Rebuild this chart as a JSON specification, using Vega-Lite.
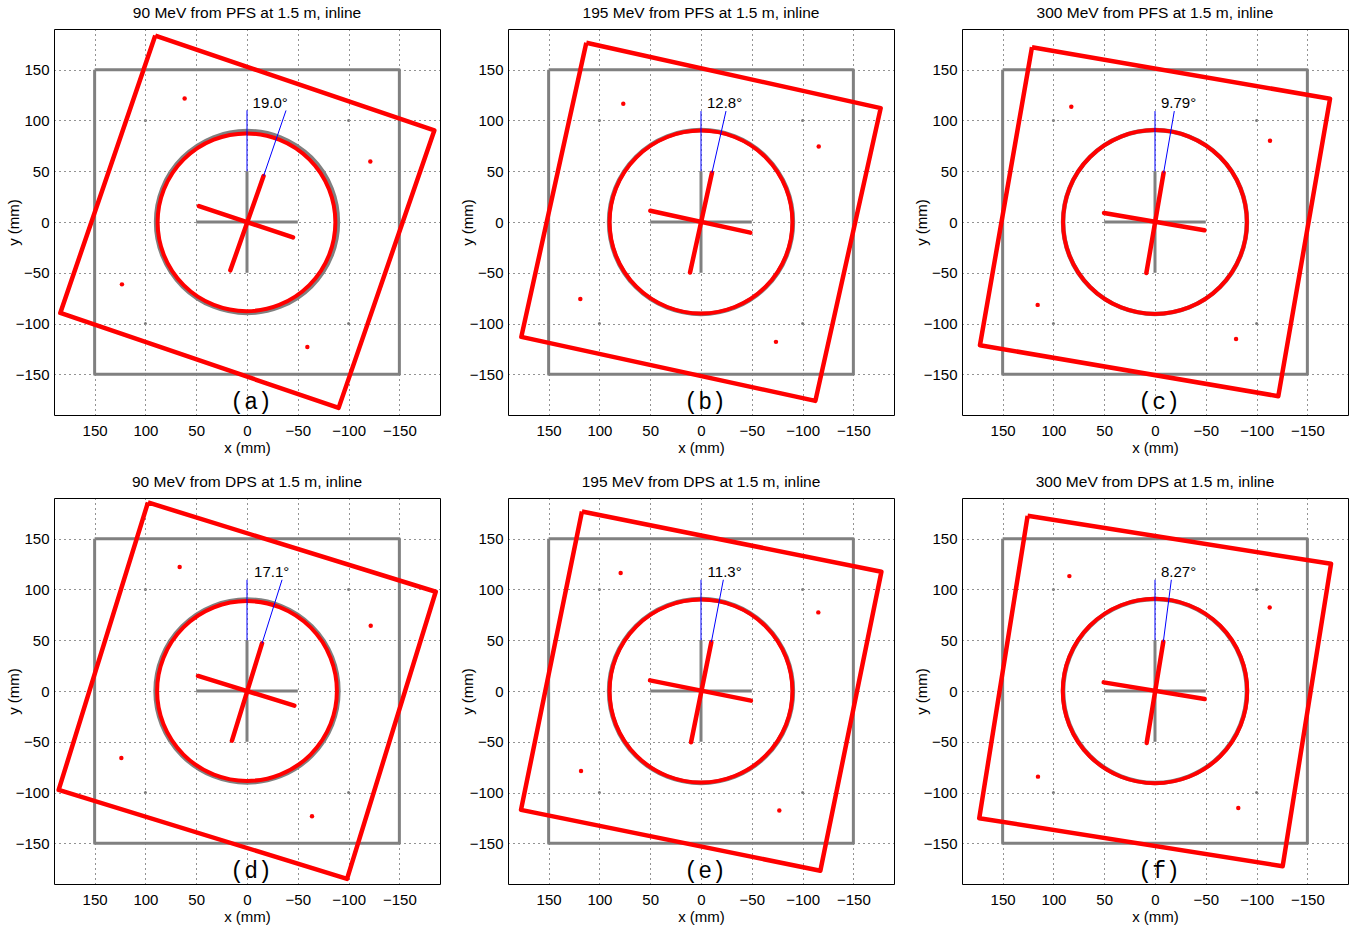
{
  "$schema": "https://vega.github.io/schema/vega-lite/v6.json",
  "background": "white",
  "padding": {"left": 5, "top": 5, "right": 0, "bottom": 0},
  "config": {
    "font": "Liberation Sans",
    "view": {"stroke": "black", "strokeWidth": 1},
    "axis": {
      "grid": true, "gridColor": "#000", "gridDash": [1, 4], "gridOpacity": 0.85, "gridWidth": 1,
      "ticks": false, "tickSize": 0, "domain": false,
      "labelFont": "Liberation Sans", "labelFontSize": 15, "labelColor": "#000",
      "titleFont": "Liberation Sans", "titleFontSize": 15, "titleFontWeight": "normal", "titleColor": "#000"
    }
  },
  "data": {
    "values": [
      {"p": "90 MeV from PFS at 1.5 m, inline", "k": "gsq", "i": 0, "x": 150, "y": 150},
      {"p": "90 MeV from PFS at 1.5 m, inline", "k": "gsq", "i": 1, "x": -150, "y": 150},
      {"p": "90 MeV from PFS at 1.5 m, inline", "k": "gsq", "i": 2, "x": -150, "y": -150},
      {"p": "90 MeV from PFS at 1.5 m, inline", "k": "gsq", "i": 3, "x": 150, "y": -150},
      {"p": "90 MeV from PFS at 1.5 m, inline", "k": "gsq", "i": 4, "x": 150, "y": 150},
      {"p": "90 MeV from PFS at 1.5 m, inline", "k": "gx", "x": 50, "y": 0, "x2": -50, "y2": 0},
      {"p": "90 MeV from PFS at 1.5 m, inline", "k": "gx", "x": 0, "y": -50, "x2": 0, "y2": 50},
      {"p": "90 MeV from PFS at 1.5 m, inline", "k": "gdot", "x": 100, "y": 100},
      {"p": "90 MeV from PFS at 1.5 m, inline", "k": "gdot", "x": -100, "y": 100},
      {"p": "90 MeV from PFS at 1.5 m, inline", "k": "gdot", "x": 100, "y": -100},
      {"p": "90 MeV from PFS at 1.5 m, inline", "k": "gdot", "x": -100, "y": -100},
      {"p": "90 MeV from PFS at 1.5 m, inline", "k": "gring", "x": 0, "y": 0, "r": 89.5},
      {"p": "90 MeV from PFS at 1.5 m, inline", "k": "rsq", "i": 0, "x": 90.3, "y": 183.5},
      {"p": "90 MeV from PFS at 1.5 m, inline", "k": "rsq", "i": 1, "x": -184.4, "y": 90.1},
      {"p": "90 MeV from PFS at 1.5 m, inline", "k": "rsq", "i": 2, "x": -90.2, "y": -183},
      {"p": "90 MeV from PFS at 1.5 m, inline", "k": "rsq", "i": 3, "x": 183.8, "y": -89.5},
      {"p": "90 MeV from PFS at 1.5 m, inline", "k": "rsq", "i": 4, "x": 90.3, "y": 183.5},
      {"p": "90 MeV from PFS at 1.5 m, inline", "k": "rring", "x": 0.5, "y": -0.3, "r": 87.5},
      {"p": "90 MeV from PFS at 1.5 m, inline", "k": "rx", "x": 47.3, "y": 15.7, "x2": -45.3, "y2": -15.1},
      {"p": "90 MeV from PFS at 1.5 m, inline", "k": "rx", "x": 16.4, "y": -47.6, "x2": -16.3, "y2": 45.2},
      {"p": "90 MeV from PFS at 1.5 m, inline", "k": "rdot", "x": 61.4, "y": 121.6},
      {"p": "90 MeV from PFS at 1.5 m, inline", "k": "rdot", "x": -121.4, "y": 59.6},
      {"p": "90 MeV from PFS at 1.5 m, inline", "k": "rdot", "x": 123.1, "y": -61.4},
      {"p": "90 MeV from PFS at 1.5 m, inline", "k": "rdot", "x": -59.4, "y": -123},
      {"p": "90 MeV from PFS at 1.5 m, inline", "k": "blue", "x": 0, "y": 50, "x2": 0, "y2": 110},
      {"p": "90 MeV from PFS at 1.5 m, inline", "k": "blue", "x": -16.3, "y": 45.2, "x2": -38.4, "y2": 109.8},
      {"p": "90 MeV from PFS at 1.5 m, inline", "k": "ang", "x": -5.5, "y": 117.4, "t": "19.0°"},
      {"p": "90 MeV from PFS at 1.5 m, inline", "k": "lab", "x": -4, "y": -177, "t": "(a)"},

      {"p": "195 MeV from PFS at 1.5 m, inline", "k": "gsq", "i": 0, "x": 150, "y": 150},
      {"p": "195 MeV from PFS at 1.5 m, inline", "k": "gsq", "i": 1, "x": -150, "y": 150},
      {"p": "195 MeV from PFS at 1.5 m, inline", "k": "gsq", "i": 2, "x": -150, "y": -150},
      {"p": "195 MeV from PFS at 1.5 m, inline", "k": "gsq", "i": 3, "x": 150, "y": -150},
      {"p": "195 MeV from PFS at 1.5 m, inline", "k": "gsq", "i": 4, "x": 150, "y": 150},
      {"p": "195 MeV from PFS at 1.5 m, inline", "k": "gx", "x": 50, "y": 0, "x2": -50, "y2": 0},
      {"p": "195 MeV from PFS at 1.5 m, inline", "k": "gx", "x": 0, "y": -50, "x2": 0, "y2": 50},
      {"p": "195 MeV from PFS at 1.5 m, inline", "k": "gdot", "x": 100, "y": 100},
      {"p": "195 MeV from PFS at 1.5 m, inline", "k": "gdot", "x": -100, "y": 100},
      {"p": "195 MeV from PFS at 1.5 m, inline", "k": "gdot", "x": 100, "y": -100},
      {"p": "195 MeV from PFS at 1.5 m, inline", "k": "gdot", "x": -100, "y": -100},
      {"p": "195 MeV from PFS at 1.5 m, inline", "k": "gring", "x": 0, "y": 0, "r": 90.5},
      {"p": "195 MeV from PFS at 1.5 m, inline", "k": "rsq", "i": 0, "x": 112.9, "y": 176.4},
      {"p": "195 MeV from PFS at 1.5 m, inline", "k": "rsq", "i": 1, "x": -176.9, "y": 112.1},
      {"p": "195 MeV from PFS at 1.5 m, inline", "k": "rsq", "i": 2, "x": -112.6, "y": -176.1},
      {"p": "195 MeV from PFS at 1.5 m, inline", "k": "rsq", "i": 3, "x": 176.9, "y": -113.1},
      {"p": "195 MeV from PFS at 1.5 m, inline", "k": "rsq", "i": 4, "x": 112.9, "y": 176.4},
      {"p": "195 MeV from PFS at 1.5 m, inline", "k": "rring", "x": 0, "y": 0, "r": 90},
      {"p": "195 MeV from PFS at 1.5 m, inline", "k": "rx", "x": 49.9, "y": 11.1, "x2": -48.6, "y2": -10.5},
      {"p": "195 MeV from PFS at 1.5 m, inline", "k": "rx", "x": 10.8, "y": -49.8, "x2": -10.8, "y2": 48.5},
      {"p": "195 MeV from PFS at 1.5 m, inline", "k": "rdot", "x": 76.5, "y": 116.4},
      {"p": "195 MeV from PFS at 1.5 m, inline", "k": "rdot", "x": -115.9, "y": 74.4},
      {"p": "195 MeV from PFS at 1.5 m, inline", "k": "rdot", "x": 118.8, "y": -75.7},
      {"p": "195 MeV from PFS at 1.5 m, inline", "k": "rdot", "x": -73.8, "y": -118},
      {"p": "195 MeV from PFS at 1.5 m, inline", "k": "blue", "x": 0, "y": 50, "x2": 0, "y2": 109.2},
      {"p": "195 MeV from PFS at 1.5 m, inline", "k": "blue", "x": -10.8, "y": 48.5, "x2": -24.6, "y2": 109.2},
      {"p": "195 MeV from PFS at 1.5 m, inline", "k": "ang", "x": -5.9, "y": 117.4, "t": "12.8°"},
      {"p": "195 MeV from PFS at 1.5 m, inline", "k": "lab", "x": -4, "y": -177, "t": "(b)"},

      {"p": "300 MeV from PFS at 1.5 m, inline", "k": "gsq", "i": 0, "x": 150, "y": 150},
      {"p": "300 MeV from PFS at 1.5 m, inline", "k": "gsq", "i": 1, "x": -150, "y": 150},
      {"p": "300 MeV from PFS at 1.5 m, inline", "k": "gsq", "i": 2, "x": -150, "y": -150},
      {"p": "300 MeV from PFS at 1.5 m, inline", "k": "gsq", "i": 3, "x": 150, "y": -150},
      {"p": "300 MeV from PFS at 1.5 m, inline", "k": "gsq", "i": 4, "x": 150, "y": 150},
      {"p": "300 MeV from PFS at 1.5 m, inline", "k": "gx", "x": 50, "y": 0, "x2": -50, "y2": 0},
      {"p": "300 MeV from PFS at 1.5 m, inline", "k": "gx", "x": 0, "y": -50, "x2": 0, "y2": 50},
      {"p": "300 MeV from PFS at 1.5 m, inline", "k": "gdot", "x": 100, "y": 100},
      {"p": "300 MeV from PFS at 1.5 m, inline", "k": "gdot", "x": -100, "y": 100},
      {"p": "300 MeV from PFS at 1.5 m, inline", "k": "gdot", "x": 100, "y": -100},
      {"p": "300 MeV from PFS at 1.5 m, inline", "k": "gdot", "x": -100, "y": -100},
      {"p": "300 MeV from PFS at 1.5 m, inline", "k": "gring", "x": 0, "y": 0, "r": 90.5},
      {"p": "300 MeV from PFS at 1.5 m, inline", "k": "rsq", "i": 0, "x": 121.1, "y": 172.1},
      {"p": "300 MeV from PFS at 1.5 m, inline", "k": "rsq", "i": 1, "x": -172.3, "y": 121.3},
      {"p": "300 MeV from PFS at 1.5 m, inline", "k": "rsq", "i": 2, "x": -121.4, "y": -171.5},
      {"p": "300 MeV from PFS at 1.5 m, inline", "k": "rsq", "i": 3, "x": 172.3, "y": -121.3},
      {"p": "300 MeV from PFS at 1.5 m, inline", "k": "rsq", "i": 4, "x": 121.1, "y": 172.1},
      {"p": "300 MeV from PFS at 1.5 m, inline", "k": "rring", "x": 0, "y": 0, "r": 90.5},
      {"p": "300 MeV from PFS at 1.5 m, inline", "k": "rx", "x": 50.2, "y": 8.9, "x2": -48.6, "y2": -8.2},
      {"p": "300 MeV from PFS at 1.5 m, inline", "k": "rx", "x": 8.5, "y": -50.2, "x2": -8.5, "y2": 48.5},
      {"p": "300 MeV from PFS at 1.5 m, inline", "k": "rdot", "x": 82.4, "y": 113.4},
      {"p": "300 MeV from PFS at 1.5 m, inline", "k": "rdot", "x": -113.2, "y": 80},
      {"p": "300 MeV from PFS at 1.5 m, inline", "k": "rdot", "x": 115.5, "y": -81.6},
      {"p": "300 MeV from PFS at 1.5 m, inline", "k": "rdot", "x": -79.8, "y": -115.1},
      {"p": "300 MeV from PFS at 1.5 m, inline", "k": "blue", "x": 0, "y": 50, "x2": 0, "y2": 109.2},
      {"p": "300 MeV from PFS at 1.5 m, inline", "k": "blue", "x": -8.5, "y": 48.5, "x2": -19, "y2": 109.2},
      {"p": "300 MeV from PFS at 1.5 m, inline", "k": "ang", "x": -5.9, "y": 117.4, "t": "9.79°"},
      {"p": "300 MeV from PFS at 1.5 m, inline", "k": "lab", "x": -4, "y": -177, "t": "(c)"},

      {"p": "90 MeV from DPS at 1.5 m, inline", "k": "gsq", "i": 0, "x": 150, "y": 150},
      {"p": "90 MeV from DPS at 1.5 m, inline", "k": "gsq", "i": 1, "x": -150, "y": 150},
      {"p": "90 MeV from DPS at 1.5 m, inline", "k": "gsq", "i": 2, "x": -150, "y": -150},
      {"p": "90 MeV from DPS at 1.5 m, inline", "k": "gsq", "i": 3, "x": 150, "y": -150},
      {"p": "90 MeV from DPS at 1.5 m, inline", "k": "gsq", "i": 4, "x": 150, "y": 150},
      {"p": "90 MeV from DPS at 1.5 m, inline", "k": "gx", "x": 50, "y": 0, "x2": -50, "y2": 0},
      {"p": "90 MeV from DPS at 1.5 m, inline", "k": "gx", "x": 0, "y": -50, "x2": 0, "y2": 50},
      {"p": "90 MeV from DPS at 1.5 m, inline", "k": "gdot", "x": 100, "y": 100},
      {"p": "90 MeV from DPS at 1.5 m, inline", "k": "gdot", "x": -100, "y": 100},
      {"p": "90 MeV from DPS at 1.5 m, inline", "k": "gdot", "x": 100, "y": -100},
      {"p": "90 MeV from DPS at 1.5 m, inline", "k": "gdot", "x": -100, "y": -100},
      {"p": "90 MeV from DPS at 1.5 m, inline", "k": "gring", "x": 0, "y": 0, "r": 90},
      {"p": "90 MeV from DPS at 1.5 m, inline", "k": "rsq", "i": 0, "x": 97.5, "y": 185.6},
      {"p": "90 MeV from DPS at 1.5 m, inline", "k": "rsq", "i": 1, "x": -185.8, "y": 97.7},
      {"p": "90 MeV from DPS at 1.5 m, inline", "k": "rsq", "i": 2, "x": -98.5, "y": -184.9},
      {"p": "90 MeV from DPS at 1.5 m, inline", "k": "rsq", "i": 3, "x": 185.4, "y": -97.4},
      {"p": "90 MeV from DPS at 1.5 m, inline", "k": "rsq", "i": 4, "x": 97.5, "y": 185.6},
      {"p": "90 MeV from DPS at 1.5 m, inline", "k": "rring", "x": 0, "y": 0, "r": 88.5},
      {"p": "90 MeV from DPS at 1.5 m, inline", "k": "rx", "x": 48.2, "y": 14.8, "x2": -46.6, "y2": -14.4},
      {"p": "90 MeV from DPS at 1.5 m, inline", "k": "rx", "x": 14.8, "y": -48.9, "x2": -14.8, "y2": 46.9},
      {"p": "90 MeV from DPS at 1.5 m, inline", "k": "rdot", "x": 66.3, "y": 122},
      {"p": "90 MeV from DPS at 1.5 m, inline", "k": "rdot", "x": -121.8, "y": 64.3},
      {"p": "90 MeV from DPS at 1.5 m, inline", "k": "rdot", "x": 123.7, "y": -65.9},
      {"p": "90 MeV from DPS at 1.5 m, inline", "k": "rdot", "x": -64, "y": -123.3},
      {"p": "90 MeV from DPS at 1.5 m, inline", "k": "blue", "x": 0, "y": 50, "x2": 0, "y2": 109.5},
      {"p": "90 MeV from DPS at 1.5 m, inline", "k": "blue", "x": -14.8, "y": 46.9, "x2": -34.5, "y2": 109.5},
      {"p": "90 MeV from DPS at 1.5 m, inline", "k": "ang", "x": -7, "y": 117.4, "t": "17.1°"},
      {"p": "90 MeV from DPS at 1.5 m, inline", "k": "lab", "x": -4, "y": -177, "t": "(d)"},

      {"p": "195 MeV from DPS at 1.5 m, inline", "k": "gsq", "i": 0, "x": 150, "y": 150},
      {"p": "195 MeV from DPS at 1.5 m, inline", "k": "gsq", "i": 1, "x": -150, "y": 150},
      {"p": "195 MeV from DPS at 1.5 m, inline", "k": "gsq", "i": 2, "x": -150, "y": -150},
      {"p": "195 MeV from DPS at 1.5 m, inline", "k": "gsq", "i": 3, "x": 150, "y": -150},
      {"p": "195 MeV from DPS at 1.5 m, inline", "k": "gsq", "i": 4, "x": 150, "y": 150},
      {"p": "195 MeV from DPS at 1.5 m, inline", "k": "gx", "x": 50, "y": 0, "x2": -50, "y2": 0},
      {"p": "195 MeV from DPS at 1.5 m, inline", "k": "gx", "x": 0, "y": -50, "x2": 0, "y2": 50},
      {"p": "195 MeV from DPS at 1.5 m, inline", "k": "gdot", "x": 100, "y": 100},
      {"p": "195 MeV from DPS at 1.5 m, inline", "k": "gdot", "x": -100, "y": 100},
      {"p": "195 MeV from DPS at 1.5 m, inline", "k": "gdot", "x": 100, "y": -100},
      {"p": "195 MeV from DPS at 1.5 m, inline", "k": "gdot", "x": -100, "y": -100},
      {"p": "195 MeV from DPS at 1.5 m, inline", "k": "gring", "x": 0, "y": 0, "r": 90.5},
      {"p": "195 MeV from DPS at 1.5 m, inline", "k": "rsq", "i": 0, "x": 117.2, "y": 176.7},
      {"p": "195 MeV from DPS at 1.5 m, inline", "k": "rsq", "i": 1, "x": -177.6, "y": 117.4},
      {"p": "195 MeV from DPS at 1.5 m, inline", "k": "rsq", "i": 2, "x": -117.5, "y": -177},
      {"p": "195 MeV from DPS at 1.5 m, inline", "k": "rsq", "i": 3, "x": 177.2, "y": -117},
      {"p": "195 MeV from DPS at 1.5 m, inline", "k": "rsq", "i": 4, "x": 117.2, "y": 176.7},
      {"p": "195 MeV from DPS at 1.5 m, inline", "k": "rring", "x": 0, "y": 0, "r": 90},
      {"p": "195 MeV from DPS at 1.5 m, inline", "k": "rx", "x": 50.2, "y": 10.5, "x2": -49.2, "y2": -9.5},
      {"p": "195 MeV from DPS at 1.5 m, inline", "k": "rx", "x": 9.8, "y": -50.5, "x2": -10.2, "y2": 48.2},
      {"p": "195 MeV from DPS at 1.5 m, inline", "k": "rdot", "x": 79.1, "y": 116.1},
      {"p": "195 MeV from DPS at 1.5 m, inline", "k": "rdot", "x": -115.5, "y": 77.4},
      {"p": "195 MeV from DPS at 1.5 m, inline", "k": "rdot", "x": 118.1, "y": -78.7},
      {"p": "195 MeV from DPS at 1.5 m, inline", "k": "rdot", "x": -77.1, "y": -117.7},
      {"p": "195 MeV from DPS at 1.5 m, inline", "k": "blue", "x": 0, "y": 50, "x2": 0, "y2": 109.5},
      {"p": "195 MeV from DPS at 1.5 m, inline", "k": "blue", "x": -10.2, "y": 48.2, "x2": -22, "y2": 109.5},
      {"p": "195 MeV from DPS at 1.5 m, inline", "k": "ang", "x": -6.5, "y": 117.4, "t": "11.3°"},
      {"p": "195 MeV from DPS at 1.5 m, inline", "k": "lab", "x": -4, "y": -177, "t": "(e)"},

      {"p": "300 MeV from DPS at 1.5 m, inline", "k": "gsq", "i": 0, "x": 150, "y": 150},
      {"p": "300 MeV from DPS at 1.5 m, inline", "k": "gsq", "i": 1, "x": -150, "y": 150},
      {"p": "300 MeV from DPS at 1.5 m, inline", "k": "gsq", "i": 2, "x": -150, "y": -150},
      {"p": "300 MeV from DPS at 1.5 m, inline", "k": "gsq", "i": 3, "x": 150, "y": -150},
      {"p": "300 MeV from DPS at 1.5 m, inline", "k": "gsq", "i": 4, "x": 150, "y": 150},
      {"p": "300 MeV from DPS at 1.5 m, inline", "k": "gx", "x": 50, "y": 0, "x2": -50, "y2": 0},
      {"p": "300 MeV from DPS at 1.5 m, inline", "k": "gx", "x": 0, "y": -50, "x2": 0, "y2": 50},
      {"p": "300 MeV from DPS at 1.5 m, inline", "k": "gdot", "x": 100, "y": 100},
      {"p": "300 MeV from DPS at 1.5 m, inline", "k": "gdot", "x": -100, "y": 100},
      {"p": "300 MeV from DPS at 1.5 m, inline", "k": "gdot", "x": 100, "y": -100},
      {"p": "300 MeV from DPS at 1.5 m, inline", "k": "gdot", "x": -100, "y": -100},
      {"p": "300 MeV from DPS at 1.5 m, inline", "k": "gring", "x": 0, "y": 0, "r": 90.5},
      {"p": "300 MeV from DPS at 1.5 m, inline", "k": "rsq", "i": 0, "x": 125.4, "y": 172.5},
      {"p": "300 MeV from DPS at 1.5 m, inline", "k": "rsq", "i": 1, "x": -173.3, "y": 125.2},
      {"p": "300 MeV from DPS at 1.5 m, inline", "k": "rsq", "i": 2, "x": -125.7, "y": -172.5},
      {"p": "300 MeV from DPS at 1.5 m, inline", "k": "rsq", "i": 3, "x": 173, "y": -125.2},
      {"p": "300 MeV from DPS at 1.5 m, inline", "k": "rsq", "i": 4, "x": 125.4, "y": 172.5},
      {"p": "300 MeV from DPS at 1.5 m, inline", "k": "rring", "x": 0, "y": 0, "r": 90.8},
      {"p": "300 MeV from DPS at 1.5 m, inline", "k": "rx", "x": 50.5, "y": 8.5, "x2": -48.9, "y2": -7.9},
      {"p": "300 MeV from DPS at 1.5 m, inline", "k": "rx", "x": 8.2, "y": -51.1, "x2": -8.2, "y2": 48.5},
      {"p": "300 MeV from DPS at 1.5 m, inline", "k": "rdot", "x": 84.3, "y": 113.1},
      {"p": "300 MeV from DPS at 1.5 m, inline", "k": "rdot", "x": -112.9, "y": 82.3},
      {"p": "300 MeV from DPS at 1.5 m, inline", "k": "rdot", "x": 115.2, "y": -84.3},
      {"p": "300 MeV from DPS at 1.5 m, inline", "k": "rdot", "x": -82, "y": -115.1},
      {"p": "300 MeV from DPS at 1.5 m, inline", "k": "blue", "x": 0, "y": 50, "x2": 0, "y2": 109.5},
      {"p": "300 MeV from DPS at 1.5 m, inline", "k": "blue", "x": -8.2, "y": 48.5, "x2": -16.1, "y2": 109.5},
      {"p": "300 MeV from DPS at 1.5 m, inline", "k": "ang", "x": -5.9, "y": 117.4, "t": "8.27°"},
      {"p": "300 MeV from DPS at 1.5 m, inline", "k": "lab", "x": -4, "y": -177, "t": "(f)"}
    ]
  },
  "facet": {
    "field": "p",
    "type": "nominal",
    "sort": [
      "90 MeV from PFS at 1.5 m, inline",
      "195 MeV from PFS at 1.5 m, inline",
      "300 MeV from PFS at 1.5 m, inline",
      "90 MeV from DPS at 1.5 m, inline",
      "195 MeV from DPS at 1.5 m, inline",
      "300 MeV from DPS at 1.5 m, inline"
    ],
    "header": {
      "title": null,
      "labelFont": "Liberation Sans",
      "labelFontSize": 15.5,
      "labelColor": "#000",
      "labelPadding": 8
    }
  },
  "columns": 3,
  "spacing": {"column": 18, "row": 18},
  "resolve": {"axis": {"x": "independent", "y": "independent"}},
  "spec": {
    "width": 386,
    "height": 386,
    "encoding": {
      "x": {
        "field": "x", "type": "quantitative",
        "scale": {"domain": [-190, 190], "reverse": true, "nice": false, "zero": false},
        "axis": {"title": "x (mm)", "values": [-150, -100, -50, 0, 50, 100, 150], "labelPadding": 8, "titlePadding": 2}
      },
      "y": {
        "field": "y", "type": "quantitative",
        "scale": {"domain": [-190, 190], "nice": false, "zero": false},
        "axis": {"title": "y (mm)", "values": [-150, -100, -50, 0, 50, 100, 150], "labelPadding": 5, "titleX": -33, "titleBaseline": "bottom"}
      }
    },
    "layer": [
      {
        "transform": [{"filter": "datum.k === 'gsq'"}],
        "mark": {"type": "line", "color": "#808080", "strokeWidth": 3, "strokeJoin": "round"},
        "encoding": {"order": {"field": "i", "type": "quantitative"}}
      },
      {
        "transform": [{"filter": "datum.k === 'gdot'"}],
        "mark": {"type": "point", "shape": "circle", "filled": true, "color": "#808080", "size": 9, "opacity": 1}
      },
      {
        "transform": [{"filter": "datum.k === 'gring'"}],
        "mark": {"type": "point", "shape": "circle", "filled": false, "stroke": "#808080", "strokeWidth": 4.5, "opacity": 1},
        "encoding": {
          "size": {"field": "r", "type": "quantitative", "legend": null,
                   "scale": {"type": "pow", "exponent": 2, "domain": [0, 100], "range": [0, 41273]}}
        }
      },
      {
        "transform": [{"filter": "datum.k === 'gx'"}],
        "mark": {"type": "rule", "color": "#808080", "strokeWidth": 3},
        "encoding": {"x2": {"field": "x2"}, "y2": {"field": "y2"}}
      },
      {
        "transform": [{"filter": "datum.k === 'rsq'"}],
        "mark": {"type": "line", "color": "#ff0000", "strokeWidth": 4.5, "strokeJoin": "round"},
        "encoding": {"order": {"field": "i", "type": "quantitative"}}
      },
      {
        "transform": [{"filter": "datum.k === 'rring'"}],
        "mark": {"type": "point", "shape": "circle", "filled": false, "stroke": "#ff0000", "strokeWidth": 4, "opacity": 1},
        "encoding": {
          "size": {"field": "r", "type": "quantitative", "legend": null,
                   "scale": {"type": "pow", "exponent": 2, "domain": [0, 100], "range": [0, 41273]}}
        }
      },
      {
        "transform": [{"filter": "datum.k === 'rx'"}],
        "mark": {"type": "rule", "color": "#ff0000", "strokeWidth": 4.5, "strokeCap": "round"},
        "encoding": {"x2": {"field": "x2"}, "y2": {"field": "y2"}}
      },
      {
        "transform": [{"filter": "datum.k === 'rdot'"}],
        "mark": {"type": "point", "shape": "circle", "filled": true, "color": "#ff0000", "size": 20, "opacity": 1}
      },
      {
        "transform": [{"filter": "datum.k === 'blue'"}],
        "mark": {"type": "rule", "color": "#0000ff", "strokeWidth": 1},
        "encoding": {"x2": {"field": "x2"}, "y2": {"field": "y2"}}
      },
      {
        "transform": [{"filter": "datum.k === 'ang'"}],
        "mark": {"type": "text", "align": "left", "baseline": "middle", "font": "Liberation Sans", "fontSize": 15, "color": "#000"},
        "encoding": {"text": {"field": "t"}}
      },
      {
        "transform": [{"filter": "datum.k === 'lab'"}],
        "mark": {"type": "text", "align": "center", "baseline": "middle", "font": "Liberation Mono", "fontSize": 23, "color": "#000"},
        "encoding": {"text": {"field": "t"}}
      }
    ]
  }
}
